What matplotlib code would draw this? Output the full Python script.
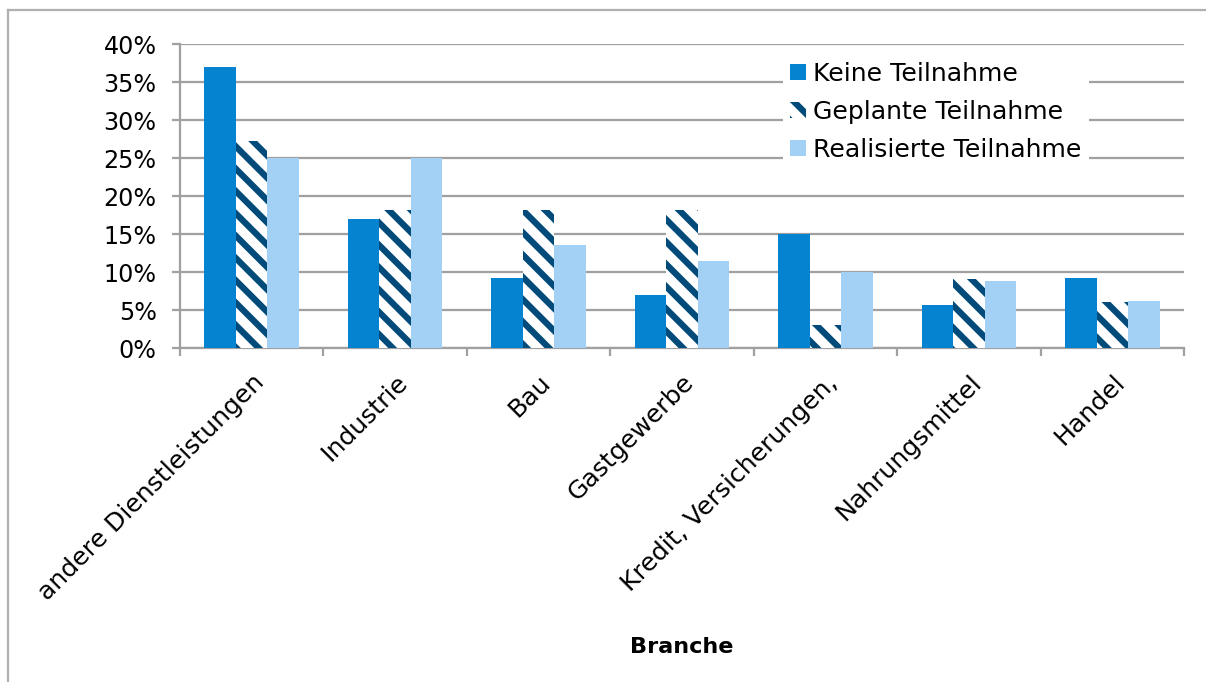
import matplotlib
matplotlib.use("Agg")
import matplotlib.pyplot as plt
import numpy as np
from matplotlib.lines import Line2D

categories = ["andere Dienstleistungen", "Industrie", "Bau", "Gastgewerbe",
              "Kredit, Versicherungen,", "Nahrungsmittel", "Handel"]
keine = [37.0, 17.0, 9.2, 7.0, 15.0, 5.7, 9.2]
geplante = [27.3, 18.2, 18.2, 18.2, 3.0, 9.1, 6.1]
realisierte = [25.0, 25.0, 13.6, 11.4, 10.0, 8.8, 6.2]
series_names = ["Keine Teilnahme", "Geplante Teilnahme", "Realisierte Teilnahme"]
yticks = [0, 5, 10, 15, 20, 25, 30, 35, 40]

DPI = 134
plt.rcParams['font.family'] = ['DejaVu Sans']
plt.rcParams['hatch.linewidth'] = 3.4

fig = plt.figure(figsize=(1206 / DPI, 682 / DPI), dpi=DPI)
ax = fig.add_axes([180 / 1206, 1 - 348 / 682, 1004 / 1206, 304 / 682])

x = np.arange(len(categories))
w = 0.22
c_keine = "#0683D0"
c_gepl = "#004B7A"
c_real = "#A3D0F5"
ax.bar(x - w, keine, w, color=c_keine, label=series_names[0], zorder=3)
ax.bar(x, geplante, w, facecolor="white", edgecolor=c_gepl, linewidth=0,
       hatch="\\\\", label=series_names[1], zorder=3)
ax.bar(x + w, realisierte, w, color=c_real, label=series_names[2], zorder=3)

ax.set_xlim(-0.5, len(categories) - 0.5)
ax.set_ylim(0, 40)
ax.set_yticks(yticks)
ax.set_yticklabels([f"{t}%" for t in yticks])
ax.yaxis.grid(True, color="#A0A0A0", linewidth=1.2, zorder=0)
ax.set_axisbelow(True)

ax.set_xticks(np.arange(len(categories) + 1) - 0.5, minor=False)
ax.set_xticklabels([])
ax.set_xticks(x, minor=True)
ax.set_xticklabels(categories, minor=True, rotation=45, ha="right",
                   rotation_mode="anchor", fontsize=13.5)
ax.tick_params(axis="x", which="minor", length=0, pad=12)
ax.tick_params(axis="x", which="major", length=4.5, width=1.2, color="#A0A0A0")
ax.tick_params(axis="y", length=4.5, width=1.2, color="#A0A0A0", pad=8, labelsize=12.8)

for s in ["top", "right"]:
    ax.spines[s].set_visible(False)
for s in ["left", "bottom"]:
    ax.spines[s].set_color("#A0A0A0")
    ax.spines[s].set_linewidth(1.2)

ax.set_xlabel("Branche", fontsize=12, fontweight="bold")
ax.xaxis.set_label_coords(0.5, (348 - 637) / 304)

leg = ax.legend(loc="upper left", bbox_to_anchor=(0.588, 1.008), frameon=True,
                fontsize=13.5, handlelength=0.6, handleheight=0.6,
                handletextpad=0.3, labelspacing=0.56, borderpad=0.3)
leg.get_frame().set_edgecolor("none")
leg.get_frame().set_facecolor("white")
leg.get_frame().set_alpha(1)

fig.add_artist(Line2D([8 / 1206, 8 / 1206], [0, 1 - 10 / 682], transform=fig.transFigure,
                      color="#B0B0B0", linewidth=1.2))
fig.add_artist(Line2D([8 / 1206, 1], [1 - 10 / 682, 1 - 10 / 682], transform=fig.transFigure,
                      color="#B0B0B0", linewidth=1.2))

fig.savefig("out.png", dpi=DPI)
